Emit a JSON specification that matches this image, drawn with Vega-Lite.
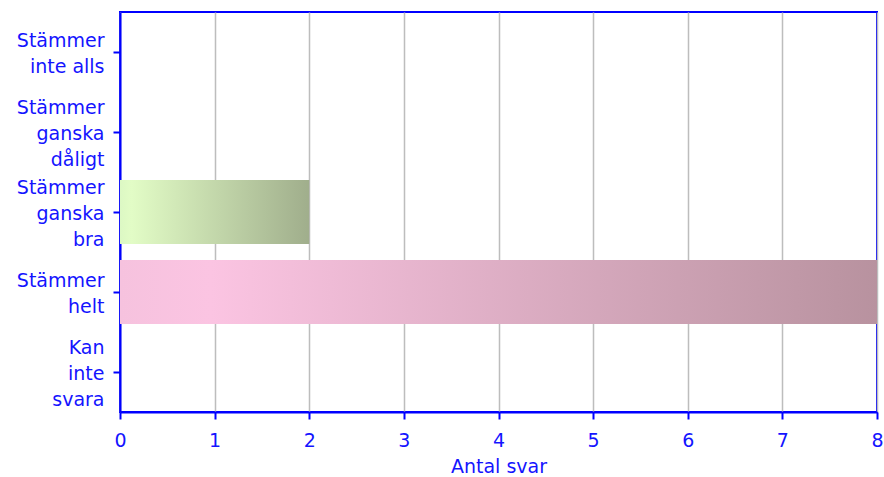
{
  "$schema": "https://vega.github.io/schema/vega-lite/v6.json",
  "autosize": {"type": "none"},
  "padding": {"left": 120, "top": 12, "right": 7, "bottom": 65},
  "width": 757,
  "height": 400,
  "background": "white",
  "config": {
    "view": {"stroke": "#0000ff", "strokeWidth": 2},
    "font": "DejaVu Sans",
    "axis": {
      "labelFont": "DejaVu Sans",
      "titleFont": "DejaVu Sans",
      "labelColor": "#1414ff",
      "titleColor": "#1414ff",
      "domainColor": "#0000ff",
      "tickColor": "#0000ff",
      "domainWidth": 2,
      "tickWidth": 2,
      "tickSize": 7,
      "labelFontSize": 19,
      "titleFontSize": 19,
      "titleFontWeight": "normal"
    }
  },
  "data": {
    "values": [
      {"svar": "Stämmer inte alls", "antal": 0},
      {"svar": "Stämmer ganska dåligt", "antal": 0},
      {"svar": "Stämmer ganska bra", "antal": 2},
      {"svar": "Stämmer helt", "antal": 8},
      {"svar": "Kan inte svara", "antal": 0}
    ]
  },
  "encoding": {
    "y": {
      "field": "svar",
      "type": "nominal",
      "scale": {
        "domain": ["Stämmer inte alls", "Stämmer ganska dåligt", "Stämmer ganska bra", "Stämmer helt", "Kan inte svara"],
        "paddingInner": 0.2,
        "paddingOuter": 0.1
      },
      "axis": {
        "title": null,
        "labelPadding": 9,
        "labelLineHeight": 26,
        "labelLimit": 200,
        "labelExpr": "datum.label == 'Stämmer inte alls' ? ['Stämmer', 'inte alls'] : split(datum.label, ' ')",
        "labelOffset": {
          "condition": {"test": "datum.value == 'Stämmer inte alls' || datum.value == 'Stämmer helt'", "value": -11},
          "value": -24
        }
      }
    },
    "x": {
      "field": "antal",
      "type": "quantitative",
      "scale": {"domain": [0, 8], "nice": false},
      "axis": {
        "title": "Antal svar",
        "values": [0, 1, 2, 3, 4, 5, 6, 7, 8],
        "format": "d",
        "grid": true,
        "gridColor": "#bdbdbd",
        "gridWidth": 1.5,
        "labelFlush": false,
        "labelPadding": 12,
        "titlePadding": 7
      }
    }
  },
  "layer": [
    {
      "transform": [{"filter": "datum.svar == 'Stämmer ganska bra'"}],
      "mark": {
        "type": "bar",
        "color": {
          "gradient": "linear",
          "x1": 0, "y1": 0, "x2": 1, "y2": 0,
          "stops": [
            {"offset": 0, "color": "#dcf8c4"},
            {"offset": 0.06, "color": "#e2fcc6"},
            {"offset": 1, "color": "#a0ae8c"}
          ]
        }
      }
    },
    {
      "transform": [{"filter": "datum.svar == 'Stämmer helt'"}],
      "mark": {
        "type": "bar",
        "color": {
          "gradient": "linear",
          "x1": 0, "y1": 0, "x2": 1, "y2": 0,
          "stops": [
            {"offset": 0, "color": "#f6c2de"},
            {"offset": 0.12, "color": "#fbc4e2"},
            {"offset": 1, "color": "#b8929f"}
          ]
        }
      }
    }
  ]
}
